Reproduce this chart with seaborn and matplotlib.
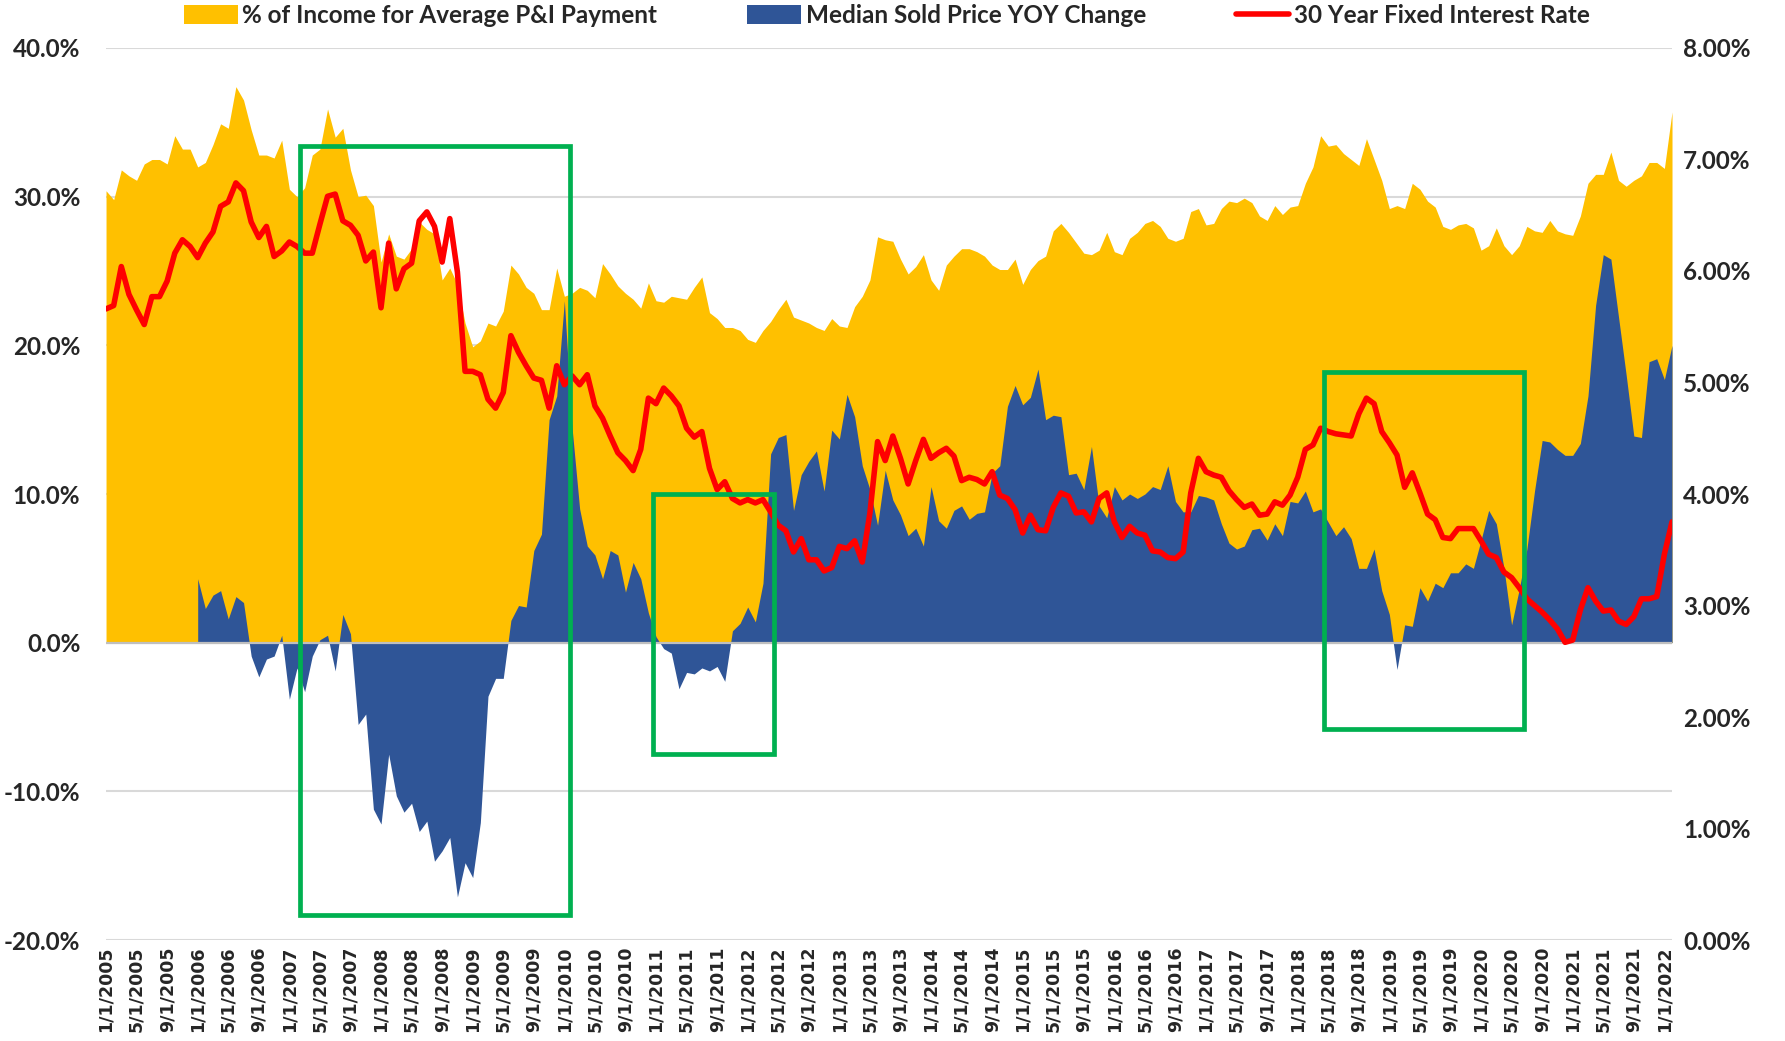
import numpy as np
import pandas as pd
import seaborn as sns
import matplotlib.pyplot as plt
from matplotlib.patches import Patch, Rectangle
from matplotlib.lines import Line2D
from matplotlib.ticker import FuncFormatter

# monthly values, 1/1/2005 .. 2/1/2022
pni_pct = [
    30.4, 29.8, 31.8, 31.4, 31.1, 32.2, 32.5, 32.5, 32.2, 34.1, 33.2, 33.2,
    32.0, 32.3, 33.5, 34.9, 34.6, 37.4, 36.5, 34.5, 32.8, 32.8, 32.6, 33.8,
    30.5, 30.0, 30.6, 32.8, 33.2, 35.9, 34.0, 34.6, 31.8, 30.0, 30.1, 29.4,
    25.6, 27.5, 26.0, 25.8, 26.5, 28.3, 27.8, 27.5, 24.4, 25.2, 24.1, 21.5,
    19.9, 20.3, 21.5, 21.3, 22.3, 25.4, 24.8, 23.9, 23.5, 22.4, 22.4, 25.2,
    23.3, 23.5, 23.9, 23.7, 23.2, 25.5, 24.8, 24.0, 23.5, 23.1, 22.5, 24.2,
    23.0, 22.9, 23.3, 23.2, 23.1, 23.9, 24.6, 22.2, 21.8, 21.2, 21.2, 21.0,
    20.4, 20.2, 21.0, 21.6, 22.4, 23.1, 21.9, 21.7, 21.5, 21.2, 21.0, 21.8,
    21.3, 21.2, 22.6, 23.3, 24.4, 27.3, 27.1, 27.0, 25.8, 24.8, 25.3, 26.1,
    24.4, 23.7, 25.4, 26.0, 26.5, 26.5, 26.3, 26.0, 25.4, 25.1, 25.1, 25.8,
    24.1, 25.1, 25.7, 26.0, 27.7, 28.2, 27.6, 26.9, 26.2, 26.1, 26.4, 27.6,
    26.3, 26.1, 27.2, 27.6, 28.2, 28.4, 28.0, 27.2, 27.0, 27.2, 29.0, 29.2,
    28.1, 28.2, 29.2, 29.7, 29.6, 29.9, 29.6, 28.7, 28.4, 29.4, 28.8, 29.3,
    29.4, 30.9, 32.0, 34.1, 33.4, 33.5, 32.9, 32.5, 32.1, 33.9, 32.5, 31.1,
    29.2, 29.4, 29.2, 30.9, 30.5, 29.7, 29.3, 28.0, 27.8, 28.1, 28.2, 27.9,
    26.4, 26.7, 27.9, 26.7, 26.1, 26.7, 28.0, 27.7, 27.6, 28.4, 27.7, 27.5,
    27.4, 28.7, 30.9, 31.5, 31.5, 33.0, 31.1, 30.7, 31.1, 31.4, 32.3, 32.3,
    31.9, 35.7,
]

# monthly values, 1/1/2006 .. 2/1/2022
price_yoy = [
    4.3, 2.3, 3.2, 3.5, 1.6, 3.1, 2.7, -0.9, -2.3, -1.1, -0.9, 0.5,
    -3.8, -1.7, -3.3, -0.9, 0.2, 0.5, -1.9, 1.9, 0.6, -5.5, -4.8, -11.2,
    -12.2, -7.5, -10.3, -11.4, -10.8, -12.7, -12.0, -14.7, -14.0, -13.1, -17.1, -14.8,
    -15.8, -12.1, -3.6, -2.4, -2.4, 1.5, 2.5, 2.4, 6.2, 7.3, 15.0, 16.6,
    23.0, 14.5, 9.0, 6.5, 5.9, 4.3, 6.2, 5.9, 3.4, 5.4, 4.3, 2.0,
    0.4, -0.4, -0.7, -3.1, -2.0, -2.1, -1.7, -1.9, -1.6, -2.6, 0.8, 1.3,
    2.4, 1.4, 4.0, 12.7, 13.8, 14.0, 8.9, 11.3, 12.2, 12.9, 10.2, 14.3,
    13.7, 16.7, 15.2, 11.9, 10.3, 7.9, 11.6, 9.6, 8.6, 7.2, 7.7, 6.5,
    10.5, 8.2, 7.7, 8.9, 9.2, 8.3, 8.7, 8.8, 11.4, 11.9, 15.9, 17.3,
    16.0, 16.5, 18.4, 15.0, 15.3, 15.2, 11.3, 11.4, 10.3, 13.2, 9.2, 8.4,
    10.5, 9.6, 10.0, 9.7, 10.0, 10.5, 10.3, 11.9, 9.5, 8.8, 8.8, 9.9,
    9.8, 9.6, 8.0, 6.7, 6.3, 6.5, 7.6, 7.7, 6.9, 8.0, 7.2, 9.5,
    9.4, 10.2, 8.8, 9.0, 8.1, 7.2, 7.8, 7.0, 5.0, 5.0, 6.3, 3.5,
    1.9, -1.8, 1.2, 1.1, 3.7, 2.8, 4.0, 3.7, 4.7, 4.7, 5.3, 5.0,
    6.9, 8.9, 8.0, 5.0, 1.2, 3.6, 6.3, 10.2, 13.6, 13.5, 13.0, 12.6,
    12.6, 13.4, 16.6, 22.7, 26.1, 25.8, 21.9, 18.0, 13.9, 13.8, 18.9, 19.1,
    17.7, 20.0,
]

# monthly values, 1/1/2005 .. 2/1/2022
rate_30yr = [
    5.66, 5.69, 6.04, 5.79, 5.65, 5.52, 5.77, 5.77, 5.91, 6.16, 6.28, 6.22,
    6.12, 6.25, 6.35, 6.58, 6.62, 6.79, 6.72, 6.44, 6.30, 6.40, 6.13, 6.18,
    6.26, 6.22, 6.16, 6.16, 6.42, 6.67, 6.69, 6.45, 6.41, 6.32, 6.09, 6.17,
    5.67, 6.25, 5.84, 6.02, 6.07, 6.45, 6.53, 6.40, 6.08, 6.47, 5.99, 5.10,
    5.10, 5.07, 4.85, 4.77, 4.91, 5.42, 5.27, 5.15, 5.04, 5.02, 4.77, 5.15,
    4.98, 5.06, 4.98, 5.07, 4.79, 4.68, 4.52, 4.37, 4.30, 4.21, 4.40, 4.86,
    4.81, 4.95, 4.88, 4.79, 4.59, 4.51, 4.56, 4.23, 4.04, 4.11, 3.96, 3.92,
    3.95, 3.92, 3.95, 3.84, 3.72, 3.67, 3.48, 3.60, 3.41, 3.41, 3.31, 3.34,
    3.53, 3.51, 3.58, 3.39, 3.83, 4.47, 4.30, 4.52, 4.32, 4.09, 4.30, 4.49,
    4.32, 4.37, 4.41, 4.34, 4.12, 4.15, 4.13, 4.09, 4.20, 3.99, 3.96, 3.86,
    3.65, 3.81, 3.68, 3.67, 3.88, 4.01, 3.98, 3.83, 3.84, 3.75, 3.96, 4.01,
    3.75, 3.61, 3.71, 3.65, 3.63, 3.49, 3.48, 3.43, 3.42, 3.48, 4.01, 4.32,
    4.20, 4.17, 4.15, 4.03, 3.95, 3.88, 3.91, 3.81, 3.82, 3.93, 3.90, 3.99,
    4.15, 4.40, 4.44, 4.59, 4.56, 4.54, 4.53, 4.52, 4.72, 4.86, 4.81, 4.56,
    4.46, 4.35, 4.06, 4.19, 4.01, 3.82, 3.77, 3.61, 3.60, 3.69, 3.69, 3.69,
    3.58, 3.46, 3.43, 3.30, 3.25, 3.16, 3.06, 3.00, 2.94, 2.87, 2.79, 2.67,
    2.69, 2.96, 3.16, 3.04, 2.95, 2.96, 2.86, 2.83, 2.90, 3.06, 3.06, 3.08,
    3.46, 3.75,
]

series_start = "2005-01-01"
yoy_start = "2006-01-01"
legend_labels = ["% of Income for Average P&I Payment", "Median Sold Price YOY Change",
                 "30 Year Fixed Interest Rate"]

# highlight boxes: (first month idx, last month idx, low %, high %) on the left axis
boxes = [(25.4, 60.7, -18.3, 33.4), (71.6, 87.5, -7.5, 10.0), (159.4, 185.6, -5.8, 18.2)]

YELLOW = "#FFC000"
BLUE = "#2F5597"
RED = "#FF0000"
GREEN = "#00B050"
GRID = "#D9D9D9"

sns.set_theme(style="white")
plt.rcParams['font.family'] = ['Lato', 'DejaVu Sans']

months = pd.date_range(series_start, periods=len(pni_pct), freq="MS")
df = pd.DataFrame({"month": months, "pni": pni_pct, "rate": rate_30yr})
df["idx"] = np.arange(len(df))
yoy = pd.Series(price_yoy, index=pd.date_range(yoy_start, periods=len(price_yoy), freq="MS"))
df["yoy"] = df["month"].map(yoy)
blue = df.dropna(subset=["yoy"])

fig = plt.figure(figsize=(17.85, 10.41), dpi=100)
ax = fig.add_axes([0.0594, 0.0970, 0.8773, 0.8569])

ax.fill_between(df["idx"], 0, df["pni"], color=YELLOW, lw=0, zorder=2)
ax.fill_between(blue["idx"], 0, blue["yoy"], color=BLUE, lw=0, zorder=3)
ax.axhline(0, color="#BFBFBF", lw=1.6, zorder=4)

ax.set_ylim(-20, 40)
ax.set_yticks(np.arange(-20, 41, 10))
ax.yaxis.set_major_formatter(FuncFormatter(lambda v, p: f"{v:.1f}%"))
ax.yaxis.grid(True, color=GRID, lw=1.5)
ax.set_axisbelow(True)
ax.set_xlim(0, len(df) - 1)
tick_idx = df["idx"][::4]
ax.set_xticks(tick_idx)
ax.set_xticklabels([f"{m.month}/1/{m.year}" for m in df["month"][::4]],
                   rotation=90, fontfamily="DejaVu Sans", fontweight="bold", fontsize=12.5)
ax.tick_params(axis="x", length=0, pad=5)
ax.tick_params(axis="y", length=0, pad=18.5, labelsize=17.5)
for lab in ax.get_yticklabels():
    lab.set_fontweight("bold")
ax.set_xlabel("")
ax.set_ylabel("")
for s in ax.spines.values():
    s.set_visible(False)

ax2 = ax.twinx()
sns.lineplot(data=df, x="idx", y="rate", ax=ax2, color=RED, lw=4, zorder=5)
ax2.set_ylim(0, 8)
ax2.set_yticks(np.arange(0, 9, 1))
ax2.yaxis.set_major_formatter(FuncFormatter(lambda v, p: f"{v:.2f}%"))
ax2.tick_params(axis="y", length=0, pad=8, labelsize=17.5)
for lab in ax2.get_yticklabels():
    lab.set_fontweight("bold")
ax2.set_xlabel("")
ax2.set_ylabel("")
ax2.grid(False)
for s in ax2.spines.values():
    s.set_visible(False)
ax.set_xlim(0, len(df) - 1)

for x0, x1, lo, hi in boxes:
    ax2.add_patch(Rectangle((x0, lo), x1 - x0, hi - lo, transform=ax.transData,
                            fill=False, edgecolor=GREEN, lw=3.4, zorder=10))

handles = [Patch(facecolor=YELLOW, edgecolor="none"),
           Patch(facecolor=BLUE, edgecolor="none"),
           Line2D([], [], color=RED, lw=4)]
fig.legend(handles, legend_labels, loc="center", bbox_to_anchor=(0.497, 0.985), ncol=3,
           frameon=False, prop=dict(weight="bold", size=17.5), handlelength=2.2,
           handleheight=0.85, handletextpad=0.2, columnspacing=3.7)

fig.savefig("out.png", dpi=100)
